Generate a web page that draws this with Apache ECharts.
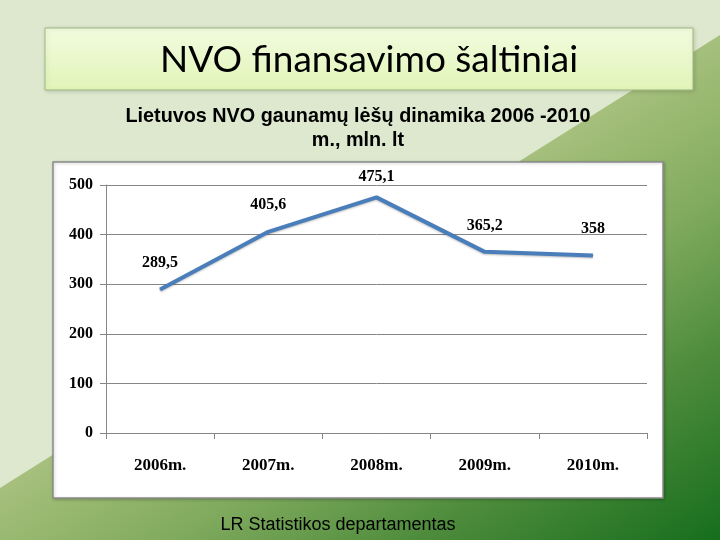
<!DOCTYPE html>
<html>
<head>
<meta charset="utf-8">
<script src="https://cdn.jsdelivr.net/npm/echarts@6/dist/echarts.min.js"></script>
<style>
html,body{margin:0;padding:0;background:#dde8cf;}
#c{width:720px;height:540px;}
</style>
</head>
<body>
<div id="c"></div>
<script>
var categories = ['2006m.', '2007m.', '2008m.', '2009m.', '2010m.'];
var values = [289.5, 405.6, 475.1, 365.2, 358];
var yTicks = { min: 0, max: 500, interval: 100 };
var titleText = 'NVO finansavimo šaltiniai';
var subtitleLines = ['Lietuvos NVO gaunamų lėšų dinamika 2006 -2010', 'm., mln. lt'];
var footerText = 'LR Statistikos departamentas';

var chart = echarts.init(document.getElementById('c'), null, { renderer: 'canvas' });
var serif = '"Liberation Serif", "Times New Roman", serif';

var seriesData = values.map(function (v, i) {
  // the top label sits a little closer to the line (as in the reference)
  return i === 2 ? { value: v, label: { distance: 12 } } : { value: v };
});

var option = {
  animation: false,
  backgroundColor: '#dde8cf',
  graphic: [
    {
      type: 'polygon', z: -20, silent: true,
      shape: { points: [[720, 35], [720, 540], [0, 540], [0, 488]] },
      style: {
        fill: new echarts.graphic.LinearGradient(492, 178, 720, 540, [
          { offset: 0, color: '#a6bf7d' },
          { offset: 0.12, color: '#98b870' },
          { offset: 0.32, color: '#80aa5e' },
          { offset: 0.62, color: '#4e8c3c' },
          { offset: 1, color: '#166e1d' }
        ], true)
      }
    },
    {
      type: 'rect', z: -15, silent: true,
      shape: { x: 45, y: 28, width: 648, height: 62 },
      style: {
        fill: new echarts.graphic.LinearGradient(0, 0, 0, 1, [
          { offset: 0, color: '#f2fbdf' },
          { offset: 1, color: '#e1f5b8' }
        ]),
        stroke: '#9fb880', lineWidth: 1,
        shadowBlur: 4, shadowColor: 'rgba(0,0,0,0.15)', shadowOffsetX: 1, shadowOffsetY: 1
      }
    },
    {
      type: 'text', z: -14, silent: true,
      style: {
        x: 369, y: 60, text: titleText, textAlign: 'center', textVerticalAlign: 'middle',
        font: '37px Lato, "Open Sans", sans-serif', fill: '#000'
      }
    },
    {
      type: 'text', z: -14, silent: true,
      style: {
        x: 358, y: 129, text: subtitleLines.join('\n'), textAlign: 'center', textVerticalAlign: 'middle',
        font: 'bold 19.8px "Liberation Sans", Arial, sans-serif', fill: '#000', lineHeight: 24
      }
    },
    {
      type: 'rect', z: -12, silent: true,
      shape: { x: 53, y: 162, width: 610, height: 336 },
      style: {
        fill: '#ffffff', stroke: '#8a8a8a', lineWidth: 1.5,
        shadowBlur: 3, shadowColor: 'rgba(0,0,0,0.2)', shadowOffsetX: 1, shadowOffsetY: 1
      }
    },
    {
      type: 'text', z: -10, silent: true,
      style: {
        x: 338, y: 525, text: footerText, textAlign: 'center', textVerticalAlign: 'middle',
        font: '18px "Liberation Sans", Arial, sans-serif', fill: '#000'
      }
    }
  ],
  grid: { left: 106, right: 73, top: 185, bottom: 107, containLabel: false },
  xAxis: {
    type: 'category',
    data: categories,
    boundaryGap: true,
    axisLine: { show: true, lineStyle: { color: '#868686', width: 1 } },
    axisTick: { show: true, length: 6, alignWithLabel: false, lineStyle: { color: '#868686' } },
    axisLabel: { margin: 24, color: '#000', fontFamily: serif, fontWeight: 'bold', fontSize: 17 },
    splitLine: { show: false }
  },
  yAxis: {
    type: 'value',
    min: yTicks.min, max: yTicks.max, interval: yTicks.interval,
    axisLine: { show: true, lineStyle: { color: '#868686', width: 1 } },
    axisTick: { show: true, length: 6, lineStyle: { color: '#868686' } },
    axisLabel: { margin: 13, color: '#000', fontFamily: serif, fontWeight: 'bold', fontSize: 16 },
    splitLine: { show: true, lineStyle: { color: '#868686', width: 1 } }
  },
  series: [{
    type: 'line',
    data: seriesData,
    symbol: 'circle',
    symbolSize: 1,
    showSymbol: true,
    itemStyle: { color: '#4a7ebb' },
    lineStyle: { color: '#4a7ebb', width: 4, shadowBlur: 2, shadowColor: 'rgba(0,0,0,0.25)', shadowOffsetY: 1 },
    label: {
      show: true, position: 'top', distance: 18,
      color: '#000', fontFamily: serif, fontWeight: 'bold', fontSize: 16,
      formatter: function (p) { return String(p.value).replace('.', ','); }
    }
  }]
};
chart.setOption(option);
</script>
</body>
</html>
